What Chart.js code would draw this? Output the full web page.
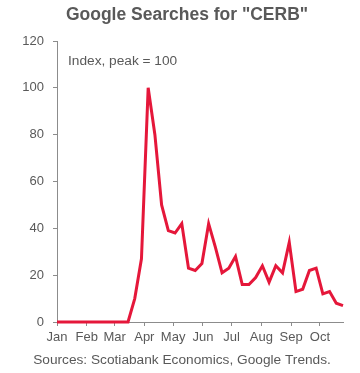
<!DOCTYPE html>
<html>
<head>
<meta charset="utf-8">
<script src="https://cdn.jsdelivr.net/npm/chart.js@4/dist/chart.umd.min.js"></script>
<style>
  html, body { margin: 0; padding: 0; background: #fff; }
  #wrap { width: 360px; height: 373px; position: relative; }
</style>
</head>
<body>
<div id="wrap"><canvas id="cerbChart"></canvas></div>
<script>
// weekly Google Trends points (week starting Sunday)
const weekDates = [
    '2019-12-29', '2020-01-05', '2020-01-12', '2020-01-19', '2020-01-26',
    '2020-02-02', '2020-02-09', '2020-02-16', '2020-02-23', '2020-03-01',
    '2020-03-08', '2020-03-15', '2020-03-22', '2020-03-29', '2020-04-05',
    '2020-04-12', '2020-04-19', '2020-04-26', '2020-05-03', '2020-05-10',
    '2020-05-17', '2020-05-24', '2020-05-31', '2020-06-07', '2020-06-14',
    '2020-06-21', '2020-06-28', '2020-07-05', '2020-07-12', '2020-07-19',
    '2020-07-26', '2020-08-02', '2020-08-09', '2020-08-16', '2020-08-23',
    '2020-08-30', '2020-09-06', '2020-09-13', '2020-09-20', '2020-09-27',
    '2020-10-04', '2020-10-11', '2020-10-18', '2020-10-25'
];
const searchIndex = [
    0, 0, 0, 0, 0,
    0, 0, 0, 0, 0,
    0, 0, 10, 27, 100,
    80, 50, 39, 38, 42,
    23, 22, 25, 42, 32,
    21, 23, 28, 16, 16,
    19, 24, 17, 24, 21,
    34, 13, 14, 22, 23,
    12, 13, 8, 7
];
// month tick labels and where each month starts
const monthLabels = ['Jan', 'Feb', 'Mar', 'Apr', 'May', 'Jun', 'Jul', 'Aug', 'Sep', 'Oct'];
const monthStarts = ['2020-01-01', '2020-02-01', '2020-03-01', '2020-04-01', '2020-05-01',
                     '2020-06-01', '2020-07-01', '2020-08-01', '2020-09-01', '2020-10-01'];
const yTicks = [0, 20, 40, 60, 80, 100, 120];

const TITLE = 'Google Searches for "CERB"';
const NOTE = 'Index, peak = 100';
const SOURCE = 'Sources: Scotiabank Economics, Google Trends.';

const FONT = '"Liberation Sans", Arial, sans-serif';
const TEXT_COLOR = '#595959';
const AXIS_COLOR = '#8c8c8c';

// day of year, Jan 1 = 0
const dayOf = s => (Date.parse(s + 'T00:00:00Z') - Date.parse('2020-01-01T00:00:00Z')) / 864e5;

const points = weekDates.map((d, i) => ({ x: dayOf(d), y: searchIndex[i] }));

// title, note and source line
const textPlugin = {
    id: 'chartTexts',
    afterDraw(chart) {
        const ctx = chart.ctx;
        const area = chart.chartArea;
        ctx.save();
        ctx.fillStyle = TEXT_COLOR;
        ctx.textBaseline = 'middle';
        ctx.textAlign = 'center';
        ctx.font = 'bold 17.5px ' + FONT;
        ctx.fillText(TITLE, 187, 15);
        ctx.font = '13.7px ' + FONT;
        ctx.fillText(SOURCE, 182, 360);
        ctx.textAlign = 'left';
        ctx.fillText(NOTE, area.left + 11, 61);
        ctx.restore();
    }
};

new Chart(document.getElementById('cerbChart'), {
    type: 'line',
    data: {
        datasets: [{
            data: points,
            borderColor: '#e5173a',
            borderWidth: 3,
            pointRadius: 0,
            tension: 0,
            clip: { left: 0, top: 5, right: 5, bottom: 5 }
        }]
    },
    options: {
        responsive: true,
        maintainAspectRatio: false,
        animation: false,
        layout: { padding: { top: 41, left: 0, right: 17, bottom: 26 } },
        scales: {
            x: {
                type: 'linear',
                min: 0,
                max: dayOf('2020-10-25'),
                afterBuildTicks: scale => { scale.ticks = monthStarts.map(m => ({ value: dayOf(m) })); },
                afterFit: scale => { scale.height = 25; },
                ticks: {
                    autoSkip: false,
                    maxRotation: 0,
                    padding: 4,
                    color: TEXT_COLOR,
                    font: { family: FONT, size: 13 },
                    callback: (v, i) => monthLabels[i]
                },
                grid: { display: true, drawOnChartArea: false, drawTicks: true, tickLength: 4, color: AXIS_COLOR },
                border: { display: true, color: AXIS_COLOR, width: 1 }
            },
            y: {
                min: 0,
                max: 120,
                afterBuildTicks: scale => { scale.ticks = yTicks.map(v => ({ value: v })); },
                afterFit: scale => { scale.width = 57; },
                ticks: {
                    padding: 9,
                    color: TEXT_COLOR,
                    font: { family: FONT, size: 13 }
                },
                grid: { display: true, drawOnChartArea: false, drawTicks: true, tickLength: 4, color: AXIS_COLOR },
                border: { display: true, color: AXIS_COLOR, width: 1 }
            }
        },
        plugins: {
            legend: { display: false },
            tooltip: { enabled: false },
            title: { display: false }
        }
    },
    plugins: [textPlugin]
});
</script>
</body>
</html>
